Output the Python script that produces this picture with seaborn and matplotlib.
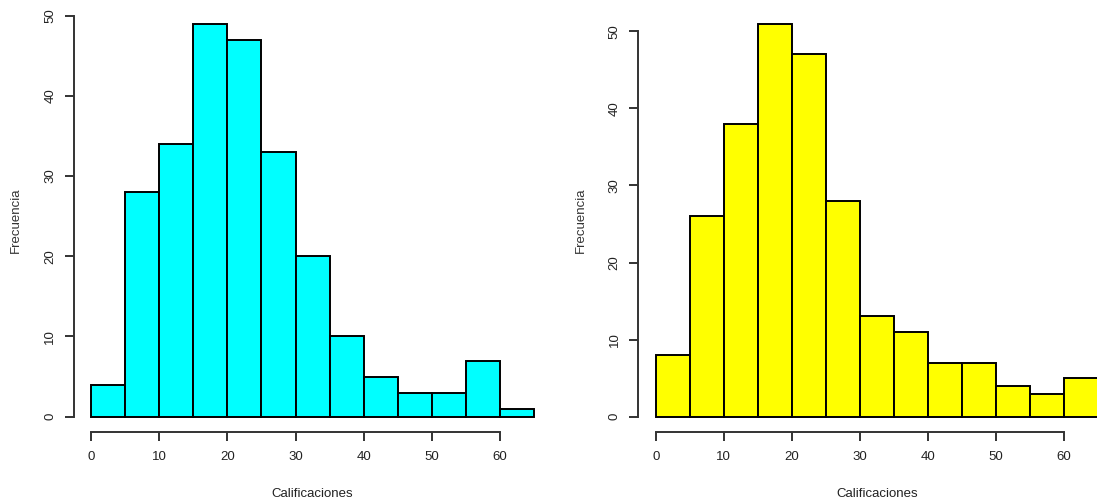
import numpy as np
import seaborn as sns
import matplotlib
matplotlib.use('Agg')
import matplotlib.pyplot as plt

# bins of width 5, counts
bin_edges = [0, 5, 10, 15, 20, 25, 30, 35, 40, 45, 50, 55, 60, 65]
counts_cyan = [4, 28, 34, 49, 47, 33, 20, 10, 5, 3, 3, 7, 1]
counts_yellow = [8, 26, 38, 51, 47, 28, 13, 11, 7, 7, 4, 3, 5]
x_ticks = [0, 10, 20, 30, 40, 50, 60]
y_ticks = [0, 10, 20, 30, 40, 50]

sns.set_style('ticks')
plt.rcParams['font.family'] = ['Liberation Sans', 'DejaVu Sans']
plt.rcParams['font.size'] = 9.5

fig = plt.figure(figsize=(10.97, 5.03), dpi=100)
ax1 = fig.add_axes([0.0671, 0.1404, 0.4356, 0.8439])
ax2 = fig.add_axes([0.5816, 0.1404, 0.4356, 0.8439])

panels = [(ax1, counts_cyan, '#00FFFF', 49), (ax2, counts_yellow, '#FFFF00', 51)]

for ax, counts, col, ymax in panels:
    sns.histplot(x=bin_edges[:-1], weights=counts, bins=bin_edges, color=col,
                 edgecolor='black', linewidth=1.4, alpha=1, ax=ax)
    # R style 4% padding
    ax.set_xlim(-0.04 * 65, 65 * 1.04)
    ax.set_ylim(-0.04 * ymax, ymax * 1.04)
    ax.set_xticks(x_ticks)
    ax.set_yticks(y_ticks)
    ax.spines['top'].set_visible(False)
    ax.spines['right'].set_visible(False)
    ax.spines['left'].set_bounds(0, 50)
    ax.spines['bottom'].set_bounds(0, 60)
    for s in ['left', 'bottom']:
        ax.spines[s].set_color('#333333')
        ax.spines[s].set_linewidth(1.4)
    ax.tick_params(axis='both', direction='out', length=6.5, width=1.4,
                   color='#333333', labelcolor='#222222', labelsize=9.5)
    ax.tick_params(axis='x', pad=7)
    ax.tick_params(axis='y', pad=6)
    for lab in ax.get_yticklabels():
        lab.set_rotation(90)
        lab.set_va('center')
    ax.set_xlabel('Calificaciones', fontsize=9.5, color='#222222')
    ax.set_ylabel('Frecuencia', fontsize=9.5, color='#333333')
    ax.xaxis.set_label_coords(0.5, -0.130)
    ax.yaxis.set_label_coords(-0.108, 0.5)

fig.savefig('out.png', dpi=100)
